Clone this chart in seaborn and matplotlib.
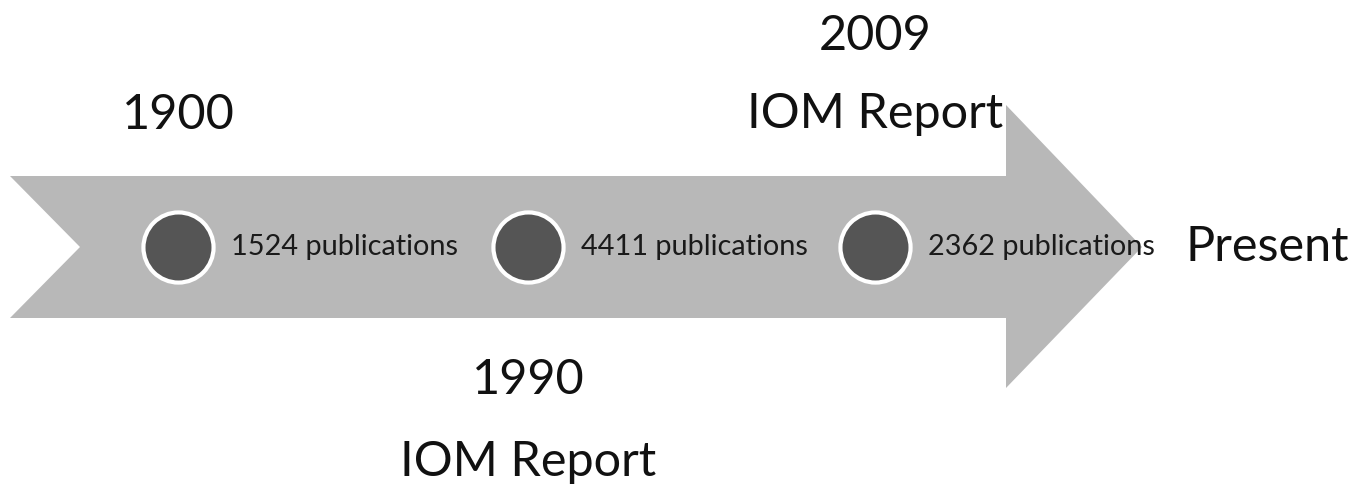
import numpy as np
import pandas as pd
import matplotlib.pyplot as plt
import seaborn as sns
from matplotlib.patches import Polygon

# --- Data ---
ERAS = ["1900", "1990", "2009"]
ERA_NOTES = ["", "IOM Report", "IOM Report"]
PUBLICATIONS = [1524, 4411, 2362]
END_LABEL = "Present"

# --- Layout (canvas units, 1 unit = 1 px) ---
W, H = 1371, 493
MID_Y = 247
DOT_X = [178, 528, 875]
ARROW_GRAY = "#b8b8b8"
DOT_GRAY = "#555555"

sns.set_theme(style="white")
plt.rcParams["font.family"] = ["Lato", "DejaVu Sans"]

fig = plt.figure(figsize=(W / 100, H / 100), dpi=100)
ax = fig.add_axes([0, 0, 1, 1])

# arrow shape with notched tail
arrow = Polygon(
    [(10, 176), (1006, 176), (1006, 105), (1142, MID_Y), (1006, 388),
     (1006, 318), (10, 318), (80, MID_Y)],
    closed=True, facecolor=ARROW_GRAY, edgecolor="none", zorder=1)
ax.add_patch(arrow)

df = pd.DataFrame({"x": DOT_X, "y": [MID_Y] * 3, "era": ERAS,
                   "pubs": PUBLICATIONS})
sns.scatterplot(data=df, x="x", y="y", ax=ax, s=2550, color=DOT_GRAY,
                edgecolor="white", linewidth=3, zorder=3, legend=False)
ax.set_xlim(0, W)
ax.set_ylim(H, 0)
ax.axis("off")

for x, n in zip(DOT_X, PUBLICATIONS):
    ax.text(x + 53, MID_Y, f"{n} publications", fontsize=20.8,
            color="#1a1a1a", ha="left", va="center", zorder=4)

# era labels: 1900 above, 1990 below, 2009 above
big = 35
ax.text(DOT_X[0], 115, ERAS[0], fontsize=big, ha="center", va="center",
        color="#111111")
ax.text(DOT_X[1], 380, ERAS[1], fontsize=big, ha="center", va="center",
        color="#111111")
ax.text(DOT_X[1], 462, ERA_NOTES[1], fontsize=big, ha="center",
        va="center", color="#111111")
ax.text(DOT_X[2], 36, ERAS[2], fontsize=big, ha="center", va="center",
        color="#111111")
ax.text(DOT_X[2], 114, ERA_NOTES[2], fontsize=big, ha="center",
        va="center", color="#111111")
ax.text(1267, MID_Y, END_LABEL, fontsize=big, ha="center", va="center",
        color="#111111")

fig.savefig("out.png", dpi=100, facecolor="white")
